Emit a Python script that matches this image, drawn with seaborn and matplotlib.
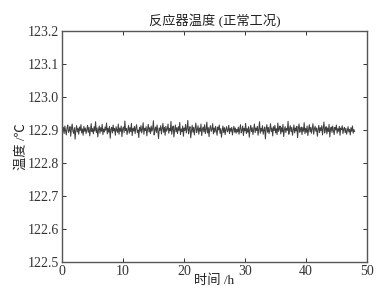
import numpy as np
import pandas as pd
import matplotlib
matplotlib.use("Agg")
import matplotlib.pyplot as plt
import seaborn as sns

title = "反应器温度 (正常工况)"
xlabel = "时间 /h"
ylabel = "温度 /℃"
x_ticks = [0, 10, 20, 30, 40, 50]
y_ticks = [122.5, 122.6, 122.7, 122.8, 122.9, 123.0, 123.1, 123.2]
t_start, t_end = 0.0, 48.0

temperature = [
    122.902, 122.895, 122.908, 122.889, 122.912, 122.897, 122.885, 122.906, 122.915, 122.893,
    122.899, 122.910, 122.881, 122.904, 122.918, 122.896, 122.890, 122.907, 122.872, 122.900,
    122.913, 122.894, 122.905, 122.887, 122.909, 122.898, 122.916, 122.891, 122.903, 122.884,
    122.911, 122.896, 122.906, 122.889, 122.900, 122.914, 122.893, 122.908, 122.882, 122.902,
    122.919, 122.895, 122.904, 122.888, 122.910, 122.897, 122.925, 122.892, 122.906, 122.879,
    122.901, 122.912, 122.890, 122.907, 122.896, 122.917, 122.886, 122.903, 122.894, 122.909,
    122.899, 122.921, 122.888, 122.905, 122.893, 122.911, 122.875, 122.902, 122.908, 122.891,
    122.915, 122.897, 122.904, 122.884, 122.910, 122.899, 122.893, 122.918, 122.887, 122.906,
    122.896, 122.912, 122.880, 122.903, 122.909, 122.892, 122.927, 122.898, 122.905, 122.886,
    122.901, 122.914, 122.890, 122.907, 122.895, 122.920, 122.883, 122.904, 122.897, 122.911,
    122.889, 122.906, 122.916, 122.893, 122.900, 122.877, 122.908, 122.896, 122.913, 122.891,
    122.903, 122.922, 122.887, 122.905, 122.898, 122.910, 122.882, 122.902, 122.917, 122.894,
    122.907, 122.889, 122.912, 122.896, 122.904, 122.928, 122.885, 122.901, 122.909, 122.892,
    122.915, 122.897, 122.874, 122.906, 122.899, 122.913, 122.888, 122.903, 122.920, 122.893,
    122.908, 122.884, 122.911, 122.896, 122.902, 122.918, 122.890, 122.905, 122.897, 122.926,
    122.887, 122.904, 122.912, 122.879, 122.900, 122.915, 122.894, 122.907, 122.889, 122.910,
    122.898, 122.923, 122.886, 122.903, 122.895, 122.912, 122.881, 122.906, 122.899, 122.917,
    122.891, 122.904, 122.929, 122.888, 122.902, 122.910, 122.876, 122.897, 122.914, 122.893,
    122.908, 122.885, 122.905, 122.921, 122.892, 122.900, 122.913, 122.887, 122.906, 122.896,
    122.918, 122.883, 122.903, 122.909, 122.894, 122.916, 122.889, 122.901, 122.924, 122.891,
    122.907, 122.880, 122.905, 122.913, 122.896, 122.902, 122.919, 122.888, 122.906, 122.893,
    122.911, 122.897, 122.884, 122.909, 122.900, 122.915, 122.890, 122.904, 122.878, 122.898,
    122.912, 122.892, 122.907, 122.886, 122.903, 122.910, 122.894, 122.899, 122.914, 122.889,
    122.905, 122.896, 122.908, 122.885, 122.901, 122.911, 122.893, 122.906, 122.890, 122.902,
    122.894, 122.909, 122.887, 122.903, 122.916, 122.891, 122.899, 122.912, 122.883, 122.905,
    122.897, 122.920, 122.889, 122.904, 122.893, 122.910, 122.878, 122.901, 122.914, 122.895,
    122.907, 122.886, 122.902, 122.918, 122.892, 122.906, 122.898, 122.911, 122.884, 122.903,
    122.925, 122.890, 122.905, 122.896, 122.913, 122.887, 122.900, 122.909, 122.873, 122.904,
    122.916, 122.893, 122.908, 122.889, 122.902, 122.919, 122.895, 122.906, 122.882, 122.910,
    122.898, 122.914, 122.891, 122.904, 122.886, 122.921, 122.896, 122.903, 122.912, 122.888,
    122.907, 122.894, 122.917, 122.880, 122.901, 122.910, 122.892, 122.905, 122.899, 122.926,
    122.887, 122.903, 122.913, 122.895, 122.908, 122.884, 122.900, 122.915, 122.891, 122.906,
    122.897, 122.911, 122.877, 122.904, 122.918, 122.893, 122.902, 122.909, 122.886, 122.907,
    122.896, 122.922, 122.889, 122.905, 122.893, 122.912, 122.883, 122.901, 122.916, 122.894,
    122.908, 122.890, 122.904, 122.919, 122.887, 122.903, 122.911, 122.896, 122.906, 122.881,
    122.900, 122.914, 122.892, 122.907, 122.898, 122.913, 122.885, 122.905, 122.924, 122.891,
    122.902, 122.910, 122.888, 122.906, 122.895, 122.917, 122.879, 122.903, 122.909, 122.893,
    122.912, 122.897, 122.886, 122.908, 122.900, 122.915, 122.890, 122.904, 122.896, 122.911,
    122.884, 122.906, 122.901, 122.913, 122.889, 122.903, 122.908, 122.892, 122.905, 122.887,
    122.898, 122.910, 122.894, 122.902, 122.885, 122.907, 122.896, 122.912, 122.890, 122.901,
    122.895,
]
time_h = np.linspace(t_start, t_end, len(temperature))
df = pd.DataFrame({"time": time_h, "temp": temperature})

sns.set_style("ticks")
fams = ["Liberation Serif", "Noto Sans CJK SC", "DejaVu Sans"]
plt.rcParams["font.family"] = fams
plt.rcParams["axes.unicode_minus"] = False

fig = plt.figure(figsize=(3.87, 2.90), dpi=100)
ax = fig.add_axes([0.160, 0.097, 0.788, 0.796])
sns.lineplot(data=df, x="time", y="temp", ax=ax, color="#404040", linewidth=0.75)

ax.set_xlim(0, 50)
ax.set_ylim(122.5, 123.2)
ax.set_xticks(x_ticks)
ax.set_yticks(y_ticks)
ax.set_yticklabels([f"{v:.1f}" for v in y_ticks])
ax.tick_params(direction="in", top=True, right=True, length=3, width=0.7,
               labelsize=10, colors="#333333", pad=2)
for s in ax.spines.values():
    s.set_color("#555555")
    s.set_linewidth(1.0)
ax.set_title(title, fontsize=9.5, pad=4, color="#222222")
ax.set_xlabel(xlabel, fontsize=9.5, labelpad=-2, color="#222222")
ax.set_ylabel(ylabel, fontsize=9.5, labelpad=0, color="#222222")

fig.savefig("out.png", dpi=100)
